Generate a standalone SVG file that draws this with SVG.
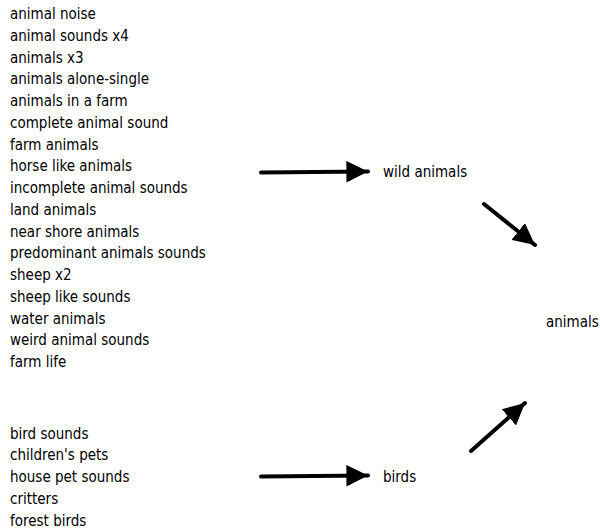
<svg xmlns="http://www.w3.org/2000/svg" width="600" height="529" viewBox="0 0 600 529">
<style>
text{font-family:"DejaVu Sans Condensed","DejaVu Sans",sans-serif;font-stretch:condensed;font-size:15px;fill:#000}
.c{stroke:#000;stroke-width:4;fill:none;stroke-linecap:round}
</style>
<defs>
<marker id="ah" viewBox="0 0 10 10" refX="10" refY="5" markerWidth="5.4" markerHeight="5.4" markerUnits="strokeWidth" orient="auto">
<path d="M0,0 L10,5 L0,10 z" fill="#000"/>
</marker>
</defs>
<rect width="600" height="529" fill="#fff"/>
<g id="wild-list">
<text x="10" y="19">animal noise</text>
<text x="10" y="40.75">animal sounds x4</text>
<text x="10" y="62.5">animals x3</text>
<text x="10" y="84.25">animals alone-single</text>
<text x="10" y="106">animals in a farm</text>
<text x="10" y="127.75">complete animal sound</text>
<text x="10" y="149.5">farm animals</text>
<text x="10" y="171.25">horse like animals</text>
<text x="10" y="193">incomplete animal sounds</text>
<text x="10" y="214.75">land animals</text>
<text x="10" y="236.5">near shore animals</text>
<text x="10" y="258.25">predominant animals sounds</text>
<text x="10" y="280">sheep x2</text>
<text x="10" y="301.75">sheep like sounds</text>
<text x="10" y="323.5">water animals</text>
<text x="10" y="345.25">weird animal sounds</text>
<text x="10" y="367">farm life</text>
</g>
<g id="bird-list">
<text x="10" y="438.5">bird sounds</text>
<text x="10" y="460.25">children's pets</text>
<text x="10" y="482">house pet sounds</text>
<text x="10" y="503.75">critters</text>
<text x="10" y="525.5">forest birds</text>
</g>
<g id="wild-animals"><text x="383" y="177">wild animals</text></g>
<g id="birds"><text x="383" y="482">birds</text></g>
<g id="animals"><text x="546" y="327">animals</text></g>
<g id="connectors">
<path class="c" d="M261,172.5 L368,171.5" marker-end="url(#ah)"/>
<path class="c" d="M261,476.5 L368,475.5" marker-end="url(#ah)"/>
<path class="c" d="M484,204 L535,245" marker-end="url(#ah)"/>
<path class="c" d="M471,451 L525,403" marker-end="url(#ah)"/>
</g>
</svg>
